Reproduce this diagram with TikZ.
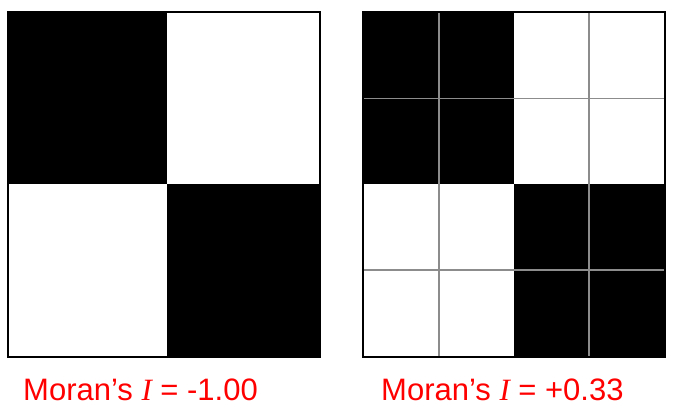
\documentclass[tikz,border=0pt]{standalone}
\usepackage{fontspec}
\setmainfont{Liberation Sans}
\newfontfamily\serifit{Liberation Serif}
\definecolor{gridgray}{RGB}{140,140,140}
\definecolor{capred}{RGB}{255,0,0}
\begin{document}
\begin{tikzpicture}[x=1pt,y=-1pt,
  cellblack/.style={fill=black},
  frame/.style={draw=black,line width=2pt},
  gridline/.style={draw=gridgray,line width=1.4pt},
  caption/.style={anchor=base west,inner sep=0pt,text=capred,font=\fontsize{31}{36}\selectfont}]
\useasboundingbox (0,0) rectangle (680,420);
% left pattern
\fill[cellblack] (7.5,12.5) rectangle (166.7,184);
\fill[cellblack] (166.7,184) rectangle (320,357);
\draw[frame] (7.5,12.5) rectangle (320,357);
% right pattern
\fill[cellblack] (363,12.5) rectangle (514,184);
\fill[cellblack] (514,184) rectangle (665,357);
\draw[gridline] (439,12.5) -- (439,357);
\draw[gridline] (589,12.5) -- (589,357);
\draw[gridline] (363,98.7) -- (665,98.7);
\draw[gridline] (363,270) -- (665,270);
\draw[frame] (363,12.5) rectangle (665,357);
% captions
\node[caption] (capL) at (23,400) {Moran’s {\serifit\itshape I} = -1.00};
\node[caption] (capR) at (381,400) {Moran’s {\serifit\itshape I} = +0.33};
\end{tikzpicture}
\end{document}
